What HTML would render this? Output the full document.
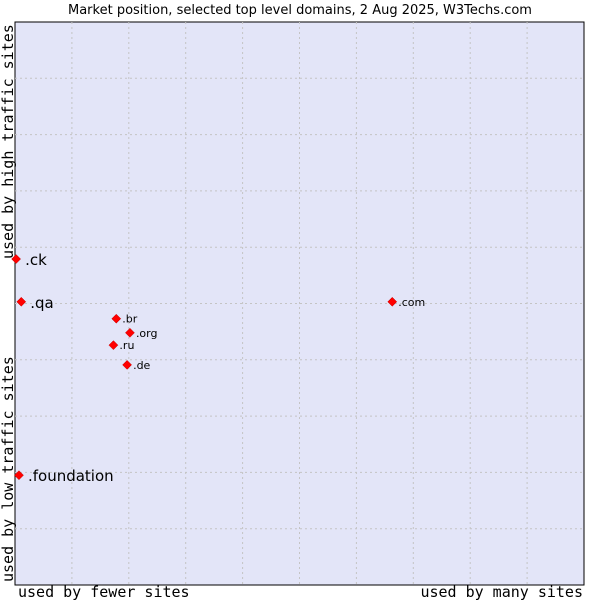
<!DOCTYPE html>
<html><head><meta charset="utf-8"><style>body{margin:0;background:#fff}svg{display:block}</style></head>
<body>
<svg id="chart" width="600" height="600" xmlns="http://www.w3.org/2000/svg" font-family="'DejaVu Sans','Liberation Sans',sans-serif">
<text x="300" y="14" text-anchor="middle" font-size="13" fill="#000">Market position, selected top level domains, 2 Aug 2025, W3Techs.com</text>
<rect x="15" y="22" width="569" height="563" fill="#e3e5f8" stroke="#000" stroke-width="1"/>
<g id="grid"></g>
<text x="18" y="597" font-family="'DejaVu Sans Mono','Liberation Mono',monospace" font-size="15">used by fewer sites</text>
<text x="583" y="597" text-anchor="end" font-family="'DejaVu Sans Mono','Liberation Mono',monospace" font-size="15">used by many sites</text>
<text transform="translate(13,259) rotate(-90)" font-family="'DejaVu Sans Mono','Liberation Mono',monospace" font-size="15">used by high traffic sites</text>
<text transform="translate(13,582) rotate(-90)" font-family="'DejaVu Sans Mono','Liberation Mono',monospace" font-size="15">used by low traffic sites</text>
<g id="points"></g>
</svg>
<script>
const labels = [".ck", ".qa", ".foundation", ".com", ".br", ".org", ".ru", ".de"];
const usageX = [0.2, 1.1, 0.7, 66.3, 17.8, 20.2, 17.3, 19.7];
const trafficY = [57.9, 50.3, 19.5, 50.3, 47.3, 44.8, 42.6, 39.1];
const bigLabel = [true, true, true, false, false, false, false, false];
const NS = "http://www.w3.org/2000/svg";
const L = 15, T = 22, W = 569, H = 563;
const xs = v => L + v / 100 * W;
const ys = v => T + H - v / 100 * H;
const grid = document.getElementById("grid");
for (let i = 1; i < 10; i++) {
  const v = document.createElementNS(NS, "line");
  
  
  v.setAttribute("x1", xs(i * 10)); v.setAttribute("x2", xs(i * 10));
  v.setAttribute("y1", T); v.setAttribute("y2", T + H);
  v.setAttribute("stroke", "#c4c4c4"); v.setAttribute("stroke-dasharray", "2,3");
  grid.appendChild(v);
  const h = document.createElementNS(NS, "line");
  
  
  h.setAttribute("y1", ys(i * 10)); h.setAttribute("y2", ys(i * 10));
  h.setAttribute("x1", L); h.setAttribute("x2", L + W);
  h.setAttribute("stroke", "#c4c4c4"); h.setAttribute("stroke-dasharray", "2,3");
  grid.appendChild(h);
}
const pts = document.getElementById("points");
labels.forEach((lab, i) => {
  const x = xs(usageX[i]), y = ys(trafficY[i]);
  const d = document.createElementNS(NS, "path");
  
  
  d.setAttribute("d", `M${x},${y-4.5}L${x+4.5},${y}L${x},${y+4.5}L${x-4.5},${y}Z`);
  d.setAttribute("fill", "#ff0000"); d.setAttribute("stroke", "#c00000"); d.setAttribute("stroke-width", "0.5");
  pts.appendChild(d);
  const t = document.createElementNS(NS, "text");
  
  
  t.setAttribute("x", x + (bigLabel[i] ? 9 : 6));
  t.setAttribute("y", y + (bigLabel[i] ? 6 : 4));
  t.setAttribute("font-size", bigLabel[i] ? 15 : 11);
  t.textContent = lab;
  pts.appendChild(t);
});
</script>
</body></html>
